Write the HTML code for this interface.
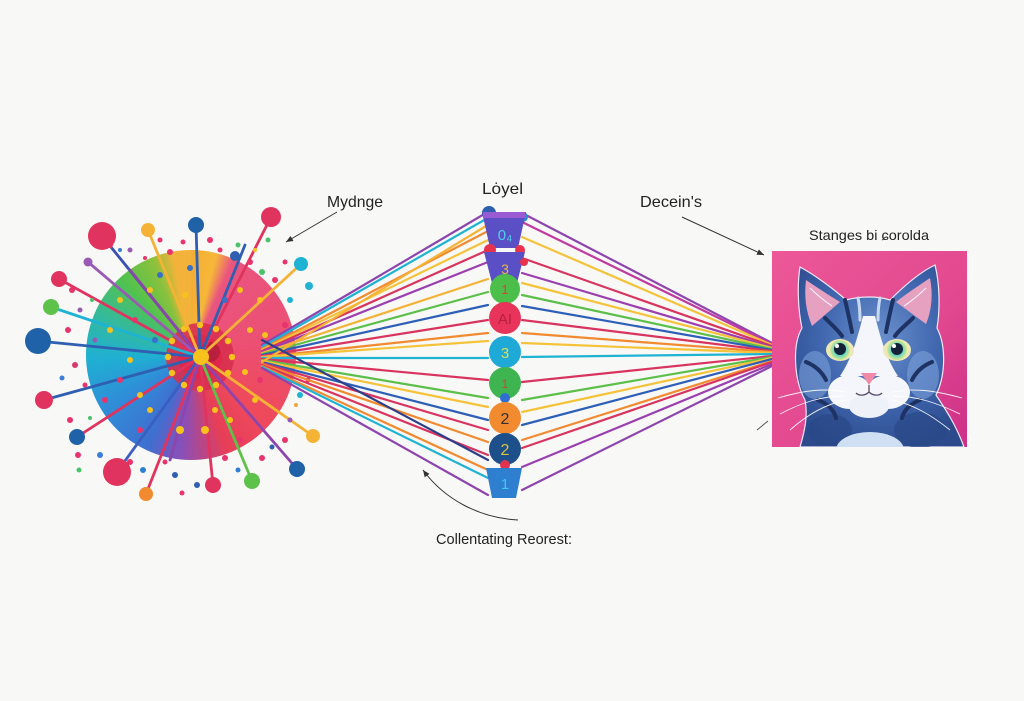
<!DOCTYPE html>
<html>
<head>
<meta charset="utf-8">
<style>
  html,body{margin:0;padding:0;background:#f8f8f6;}
  #wrap{position:relative;width:1024px;height:701px;overflow:hidden;background:#f8f8f6;}
  #disc{position:absolute;left:86px;top:250px;width:210px;height:210px;border-radius:50%;
    background:conic-gradient(from 0deg,#f4ad36 0deg,#f6b838 14deg,#e9557f 24deg,#ec4f72 80deg,#ee4a5c 130deg,#e63e58 160deg,#8b4fb6 185deg,#3f6fd0 205deg,#2f8fd8 240deg,#1fb0d2 268deg,#33b9a0 292deg,#52c24e 318deg,#8bc13c 338deg,#f3b33a 350deg);}
  svg{position:absolute;left:0;top:0;}
  text{font-family:"Liberation Sans",sans-serif;}
</style>
</head>
<body>
<div id="wrap">
<div id="disc"></div>
<svg width="1024" height="701" viewBox="0 0 1024 701" xmlns="http://www.w3.org/2000/svg">
  <defs>
    <linearGradient id="pinkbg" x1="0" y1="0" x2="1" y2="1">
      <stop offset="0" stop-color="#ec5898"/>
      <stop offset="0.6" stop-color="#e2488f"/>
      <stop offset="1" stop-color="#cc3088"/>
    </linearGradient>
    <radialGradient id="fur" cx="0.5" cy="0.4" r="0.65">
      <stop offset="0" stop-color="#6a90cc"/>
      <stop offset="0.55" stop-color="#3f66ae"/>
      <stop offset="1" stop-color="#2c4a8c"/>
    </radialGradient>
    <radialGradient id="iris" cx="0.5" cy="0.5" r="0.5">
      <stop offset="0" stop-color="#2a8f8c"/>
      <stop offset="0.6" stop-color="#6ad6c4"/>
      <stop offset="1" stop-color="#d9e88a"/>
    </radialGradient>
    <clipPath id="catclip"><rect x="772" y="251" width="195" height="196"/></clipPath>
    <marker id="ah" markerWidth="8" markerHeight="8" refX="7" refY="4" orient="auto" markerUnits="userSpaceOnUse">
      <path d="M0,1 L7,4 L0,7 Z" fill="#333"/>
    </marker>
  </defs>

  <!-- inner circle details -->
  <circle cx="200" cy="357" r="34" fill="#d8304f" opacity="0.9"/>
  <circle cx="200" cy="357" r="22" fill="#e0284a"/>
  <circle cx="210" cy="352" r="10" fill="#b8203e"/>

  <!-- spokes -->
  <g stroke-width="2.8" stroke-linecap="round" fill="none">
    <line x1="200" y1="357" x2="102" y2="236" stroke="#3a4fb0"/>
    <line x1="200" y1="357" x2="148" y2="230" stroke="#f5b336"/>
    <line x1="200" y1="357" x2="196" y2="225" stroke="#2f5fb0"/>
    <line x1="200" y1="357" x2="271" y2="217" stroke="#e0335e"/>
    <line x1="200" y1="357" x2="88" y2="262" stroke="#9b59b6"/>
    <line x1="200" y1="357" x2="59" y2="279" stroke="#e0335e"/>
    <line x1="200" y1="357" x2="51" y2="307" stroke="#1fb3d3"/>
    <line x1="200" y1="357" x2="38" y2="341" stroke="#2f5fb0"/>
    <line x1="200" y1="357" x2="44" y2="400" stroke="#2f5fb0"/>
    <line x1="200" y1="357" x2="77" y2="437" stroke="#e0335e"/>
    <line x1="200" y1="357" x2="117" y2="472" stroke="#3a5fc0"/>
    <line x1="200" y1="357" x2="146" y2="494" stroke="#e0335e"/>
    <line x1="200" y1="357" x2="213" y2="485" stroke="#e0335e"/>
    <line x1="200" y1="357" x2="252" y2="481" stroke="#5cc24a"/>
    <line x1="200" y1="357" x2="297" y2="469" stroke="#8e44ad"/>
    <line x1="200" y1="357" x2="313" y2="436" stroke="#f5b336"/>
    <line x1="200" y1="357" x2="301" y2="264" stroke="#f5b336"/>
    <line x1="200" y1="357" x2="130" y2="270" stroke="#8e44ad"/>
    <line x1="200" y1="357" x2="170" y2="460" stroke="#8e44ad"/>
    <line x1="200" y1="357" x2="245" y2="245" stroke="#2f5fb0"/>
  </g>

  <!-- inner dots -->
  <g fill="#f7c21c">
    <circle cx="232" cy="357" r="3.2"/><circle cx="228" cy="373" r="3.2"/><circle cx="216" cy="385" r="3.2"/>
    <circle cx="200" cy="389" r="3.2"/><circle cx="184" cy="385" r="3.2"/><circle cx="172" cy="373" r="3.2"/>
    <circle cx="168" cy="357" r="3.2"/><circle cx="172" cy="341" r="3.2"/><circle cx="184" cy="329" r="3.2"/>
    <circle cx="200" cy="325" r="3.2"/><circle cx="216" cy="329" r="3.2"/><circle cx="228" cy="341" r="3.2"/>
    <circle cx="120" cy="300" r="3"/><circle cx="110" cy="330" r="3"/><circle cx="150" cy="290" r="3"/>
    <circle cx="185" cy="295" r="3"/><circle cx="240" cy="290" r="3"/><circle cx="260" cy="300" r="3"/>
    <circle cx="250" cy="330" r="3"/><circle cx="265" cy="335" r="3"/><circle cx="150" cy="410" r="3"/>
    <circle cx="180" cy="430" r="4"/><circle cx="205" cy="430" r="4"/><circle cx="230" cy="420" r="3"/>
    <circle cx="255" cy="400" r="3"/><circle cx="130" cy="360" r="3"/><circle cx="215" cy="410" r="3"/>
    <circle cx="140" cy="395" r="3"/><circle cx="245" cy="372" r="3"/>
  </g>
  <g fill="#e8336b">
    <circle cx="135" cy="320" r="3"/><circle cx="140" cy="430" r="3"/><circle cx="260" cy="380" r="3"/>
    <circle cx="120" cy="380" r="3"/><circle cx="105" cy="400" r="3"/><circle cx="240" cy="440" r="3"/>
  </g>
  <g fill="#3b6fc8">
    <circle cx="160" cy="275" r="3"/><circle cx="190" cy="268" r="3"/><circle cx="155" cy="340" r="3"/>
    <circle cx="225" cy="300" r="3"/>
  </g>
  <circle cx="201" cy="357" r="8" fill="#f7c21c"/>

  <!-- outer dots -->
  <g>
    <circle cx="72" cy="290" r="3" fill="#e8336b"/><circle cx="80" cy="310" r="2.5" fill="#9b59b6"/>
    <circle cx="68" cy="330" r="3" fill="#e8336b"/><circle cx="75" cy="365" r="3" fill="#d63a6a"/>
    <circle cx="62" cy="378" r="2.5" fill="#3b7dd8"/><circle cx="85" cy="385" r="2.5" fill="#e8336b"/>
    <circle cx="70" cy="420" r="3" fill="#e8336b"/><circle cx="90" cy="418" r="2" fill="#4cc26a"/>
    <circle cx="78" cy="455" r="3" fill="#e8336b"/><circle cx="100" cy="455" r="3" fill="#3b7dd8"/>
    <circle cx="130" cy="462" r="3" fill="#e8336b"/><circle cx="143" cy="470" r="3" fill="#2f7fd0"/>
    <circle cx="165" cy="462" r="2.5" fill="#e8336b"/><circle cx="175" cy="475" r="3" fill="#2f5fb0"/>
    <circle cx="182" cy="493" r="2.5" fill="#e8336b"/><circle cx="197" cy="485" r="3" fill="#2f5fb0"/>
    <circle cx="225" cy="458" r="3" fill="#e8336b"/><circle cx="238" cy="470" r="2.5" fill="#2f7fd0"/>
    <circle cx="262" cy="458" r="3" fill="#e8336b"/><circle cx="272" cy="447" r="2.5" fill="#2f5fb0"/>
    <circle cx="285" cy="440" r="3" fill="#e8336b"/><circle cx="290" cy="420" r="2.5" fill="#9b59b6"/>
    <circle cx="300" cy="395" r="3" fill="#1fb3d3"/><circle cx="308" cy="380" r="2.5" fill="#e8336b"/>
    <circle cx="296" cy="405" r="2" fill="#f2a33a"/><circle cx="110" cy="245" r="3" fill="#e8336b"/>
    <circle cx="130" cy="250" r="2.5" fill="#9b59b6"/><circle cx="160" cy="240" r="2.5" fill="#e8336b"/>
    <circle cx="170" cy="252" r="3" fill="#e8336b"/><circle cx="183" cy="242" r="2.5" fill="#e8336b"/>
    <circle cx="210" cy="240" r="3" fill="#e8336b"/><circle cx="220" cy="250" r="2.5" fill="#e8336b"/>
    <circle cx="238" cy="245" r="2.5" fill="#4cc26a"/><circle cx="250" cy="262" r="3" fill="#e8336b"/>
    <circle cx="262" cy="272" r="3" fill="#4cc26a"/><circle cx="275" cy="280" r="3" fill="#e8336b"/>
    <circle cx="285" cy="262" r="2.5" fill="#e8336b"/><circle cx="290" cy="300" r="3" fill="#1fb3d3"/>
    <circle cx="285" cy="325" r="3" fill="#e8336b"/><circle cx="255" cy="250" r="2" fill="#f7c21c"/>
    <circle cx="92" cy="300" r="2" fill="#4cc26a"/><circle cx="95" cy="340" r="2.5" fill="#9b59b6"/>
    <circle cx="120" cy="250" r="2" fill="#3b7dd8"/><circle cx="145" cy="258" r="2" fill="#e8336b"/>
    <circle cx="309" cy="286" r="4" fill="#1fb3d3"/><circle cx="235" cy="256" r="5" fill="#2f5fb0"/>
    <circle cx="268" cy="240" r="2.5" fill="#4cc26a"/><circle cx="79" cy="470" r="2.5" fill="#4cc26a"/>
  </g>

  <!-- spoke balls -->
  <g>
    <circle cx="102" cy="236" r="14" fill="#e0335e"/>
    <circle cx="148" cy="230" r="7" fill="#f5b336"/>
    <circle cx="196" cy="225" r="8" fill="#1f62a8"/>
    <circle cx="271" cy="217" r="10" fill="#e0335e"/>
    <circle cx="88" cy="262" r="4.5" fill="#9b59b6"/>
    <circle cx="59" cy="279" r="8" fill="#e0335e"/>
    <circle cx="51" cy="307" r="8" fill="#5cc24a"/>
    <circle cx="38" cy="341" r="13" fill="#1f62a8"/>
    <circle cx="44" cy="400" r="9" fill="#e0335e"/>
    <circle cx="77" cy="437" r="8" fill="#1f62a8"/>
    <circle cx="117" cy="472" r="14" fill="#e0335e"/>
    <circle cx="146" cy="494" r="7" fill="#f28a30"/>
    <circle cx="213" cy="485" r="8" fill="#e0335e"/>
    <circle cx="252" cy="481" r="8" fill="#5cc24a"/>
    <circle cx="297" cy="469" r="8" fill="#1f62a8"/>
    <circle cx="313" cy="436" r="7" fill="#f5b336"/>
    <circle cx="301" cy="264" r="7" fill="#1fb3d3"/>
  </g>

  <!-- left fan -->
  <g stroke-width="2.2" stroke-linecap="round" fill="none">
    <line x1="262" y1="345" x2="486" y2="213" stroke="#8e44ad"/>
    <line x1="262" y1="347" x2="486" y2="219" stroke="#1fb3d3"/>
    <line x1="262" y1="349" x2="488" y2="231" stroke="#f28a30"/>
    <line x1="262" y1="350" x2="488" y2="240" stroke="#f5c33a"/>
    <line x1="262" y1="351" x2="488" y2="250" stroke="#d8345f"/>
    <line x1="262" y1="352" x2="488" y2="262" stroke="#9b3fb0"/>
    <line x1="262" y1="353" x2="488" y2="279" stroke="#f5b336"/>
    <line x1="262" y1="354" x2="488" y2="292" stroke="#5cbf4a"/>
    <line x1="262" y1="355" x2="488" y2="305" stroke="#2e5fb8"/>
    <line x1="262" y1="356" x2="488" y2="320" stroke="#d8345f"/>
    <line x1="262" y1="357" x2="488" y2="333" stroke="#f28a30"/>
    <line x1="262" y1="357" x2="488" y2="341" stroke="#f5c33a"/>
    <line x1="262" y1="358" x2="488" y2="358" stroke="#1fb3d3"/>
    <line x1="262" y1="359" x2="488" y2="380" stroke="#d8345f"/>
    <line x1="262" y1="360" x2="488" y2="398" stroke="#5cbf4a"/>
    <line x1="262" y1="361" x2="488" y2="407" stroke="#f5c33a"/>
    <line x1="262" y1="362" x2="488" y2="420" stroke="#2e5fb8"/>
    <line x1="262" y1="363" x2="488" y2="430" stroke="#d8345f"/>
    <line x1="262" y1="364" x2="488" y2="442" stroke="#f28a30"/>
    <line x1="262" y1="365" x2="488" y2="455" stroke="#d8345f"/>
    <line x1="262" y1="366" x2="488" y2="470" stroke="#f28a30"/>
    <line x1="262" y1="367" x2="488" y2="478" stroke="#1fb3d3"/>
    <line x1="262" y1="368" x2="488" y2="495" stroke="#8e44ad"/>
    <line x1="262" y1="362" x2="486" y2="226" stroke="#f5b336"/>
    <line x1="262" y1="340" x2="488" y2="460" stroke="#2e3f8a"/>
  </g>

  <!-- right fan -->
  <g stroke-width="2.2" stroke-linecap="round" fill="none">
    <line x1="522" y1="213" x2="772" y2="343" stroke="#8e44ad"/>
    <line x1="522" y1="222" x2="772" y2="344" stroke="#c03aa0"/>
    <line x1="522" y1="237" x2="772" y2="345" stroke="#f5c33a"/>
    <line x1="522" y1="258" x2="772" y2="346" stroke="#d8345f"/>
    <line x1="522" y1="273" x2="772" y2="347" stroke="#9b3fb0"/>
    <line x1="522" y1="283" x2="772" y2="348" stroke="#f5c33a"/>
    <line x1="522" y1="295" x2="772" y2="349" stroke="#5cbf4a"/>
    <line x1="522" y1="306" x2="772" y2="350" stroke="#2e5fb8"/>
    <line x1="522" y1="320" x2="772" y2="351" stroke="#d8345f"/>
    <line x1="522" y1="333" x2="772" y2="352" stroke="#f28a30"/>
    <line x1="522" y1="343" x2="772" y2="353" stroke="#f5c33a"/>
    <line x1="522" y1="357" x2="772" y2="354" stroke="#1fb3d3"/>
    <line x1="522" y1="382" x2="772" y2="356" stroke="#d8345f"/>
    <line x1="522" y1="400" x2="772" y2="357" stroke="#5cbf4a"/>
    <line x1="522" y1="412" x2="772" y2="358" stroke="#f5c33a"/>
    <line x1="522" y1="425" x2="772" y2="359" stroke="#2e5fb8"/>
    <line x1="522" y1="440" x2="772" y2="361" stroke="#f28a30"/>
    <line x1="522" y1="448" x2="772" y2="362" stroke="#d8345f"/>
    <line x1="522" y1="467" x2="772" y2="364" stroke="#9b3fb0"/>
    <line x1="522" y1="490" x2="772" y2="366" stroke="#8e44ad"/>
  </g>

  <!-- middle column -->
  <circle cx="489" cy="213" r="7" fill="#2f5fb0"/>
  <circle cx="523" cy="217" r="5" fill="#2a8fd0"/>
  <path d="M482,212 L526,212 L518,248 L490,248 Z" fill="#5a4fc4"/>
  <rect x="483" y="212" width="42" height="6" fill="#9a5ad4"/>
  <text x="505" y="240" font-size="15" fill="#4fd0e8" text-anchor="middle">0₄</text>
  <circle cx="490" cy="250" r="6" fill="#e8334f"/>
  <circle cx="520" cy="250" r="5" fill="#e8334f"/>
  <path d="M484,252 L525,252 L517,283 L492,283 Z" fill="#5a4fc4"/>
  <circle cx="524" cy="262" r="4" fill="#e8334f"/>
  <text x="505" y="274" font-size="14" fill="#e6b84a" text-anchor="middle">3</text>
  <circle cx="505" cy="289" r="15" fill="#4cbf4a"/>
  <text x="505" y="294" font-size="13" fill="#d84040" text-anchor="middle">1</text>
  <circle cx="505" cy="318" r="16" fill="#e8345a"/>
  <text x="505" y="324" font-size="15" fill="#b81e3e" text-anchor="middle">AI</text>
  <circle cx="505" cy="352" r="16" fill="#1fa9d6"/>
  <text x="505" y="358" font-size="15" fill="#d6e05a" text-anchor="middle">3</text>
  <circle cx="505" cy="383" r="16" fill="#3fb552"/>
  <text x="505" y="388" font-size="12" fill="#d84040" text-anchor="middle">1</text>
  <circle cx="505" cy="398" r="5" fill="#2f6fd0"/>
  <circle cx="505" cy="418" r="16" fill="#f28a30"/>
  <text x="505" y="424" font-size="16" fill="#333" text-anchor="middle">2</text>
  <circle cx="505" cy="449" r="16" fill="#1d4f8a"/>
  <text x="505" y="455" font-size="16" fill="#e0c040" text-anchor="middle">2</text>
  <circle cx="505" cy="465" r="5" fill="#e0334f"/>
  <path d="M486,468 L522,468 L516,498 L492,498 Z" fill="#2f7fd0"/>
  <text x="505" y="489" font-size="15" fill="#40c8f0" text-anchor="middle">1</text>

  <!-- cat picture -->
  <rect x="772" y="251" width="195" height="196" fill="url(#pinkbg)"/>
  <g clip-path="url(#catclip)">
    <!-- head + body silhouette -->
    <path d="M800,267 C815,275 835,290 846,300 C860,296 878,296 890,300 C902,288 920,272 935,265 C940,285 940,310 937,328 C946,345 946,375 936,395 C946,410 956,425 964,447 L800,447 C805,430 808,415 805,400 C794,380 792,345 802,328 C798,310 797,285 800,267 Z" fill="url(#fur)" stroke="#f0e8f4" stroke-width="1.2"/>
    <!-- inner ears -->
    <path d="M806,280 C818,288 830,296 840,302 L812,326 C806,312 804,296 806,280 Z" fill="#e6a0c0"/>
    <path d="M930,278 C918,286 906,294 896,302 L926,324 C932,310 933,294 930,278 Z" fill="#e6a0c0"/>
    <path d="M810,288 C818,296 826,302 832,306" stroke="#f4f0f8" stroke-width="1.2" fill="none"/>
    <path d="M926,288 C918,296 910,302 904,306" stroke="#f4f0f8" stroke-width="1.2" fill="none"/>
    <!-- cheek highlights -->
    <ellipse cx="815" cy="375" rx="16" ry="24" fill="#7ca0d8" opacity="0.6"/>
    <ellipse cx="923" cy="375" rx="16" ry="24" fill="#7ca0d8" opacity="0.6"/>
    <ellipse cx="830" cy="430" rx="22" ry="16" fill="#2a4888" opacity="0.7"/>
    <ellipse cx="920" cy="430" rx="26" ry="18" fill="#2a4888" opacity="0.7"/>
    <!-- stripes -->
    <g stroke="#1e3264" stroke-width="4" fill="none" stroke-linecap="round">
      <path d="M845,300 C848,312 850,322 852,332"/>
      <path d="M893,300 C890,312 888,322 886,332"/>
      <path d="M825,318 C832,325 838,330 842,336"/>
      <path d="M913,318 C906,325 899,330 895,336"/>
      <path d="M806,362 C816,366 822,372 826,380"/>
      <path d="M932,362 C922,366 916,372 912,380"/>
      <path d="M818,400 C828,404 834,410 836,418"/>
      <path d="M920,400 C910,404 904,410 902,418"/>
    </g>
    <g stroke="#c8d8f0" stroke-width="3" fill="none" stroke-linecap="round">
      <path d="M858,298 C860,307 860,314 860,320"/>
      <path d="M880,298 C878,307 878,314 878,320"/>
    </g>
    <!-- white blaze & muzzle -->
    <path d="M863,316 L875,316 C881,340 887,360 898,376 L840,376 C851,360 857,340 863,316 Z" fill="#f4f6fb"/>
    <ellipse cx="850" cy="392" rx="22" ry="17" fill="#f4f6fb"/>
    <ellipse cx="888" cy="392" rx="22" ry="17" fill="#f4f6fb"/>
    <ellipse cx="869" cy="406" rx="20" ry="12" fill="#eef2f8"/>
    <ellipse cx="870" cy="450" rx="34" ry="18" fill="#cfe0f4"/>
    <!-- eyes -->
    <ellipse cx="840" cy="350" rx="14" ry="11" fill="#ece8b8"/>
    <ellipse cx="897" cy="350" rx="14" ry="11" fill="#ece8b8"/>
    <circle cx="840" cy="350" r="10" fill="url(#iris)"/>
    <circle cx="897" cy="350" r="10" fill="url(#iris)"/>
    <circle cx="840" cy="349" r="6" fill="#142238"/>
    <circle cx="897" cy="349" r="6" fill="#142238"/>
    <circle cx="837" cy="346" r="2" fill="#fff"/>
    <circle cx="894" cy="346" r="2" fill="#fff"/>
    <!-- nose & mouth -->
    <path d="M861,373 L877,373 L869,385 Z" fill="#f08aa8"/>
    <path d="M869,385 L869,392 M869,392 C865,396 859,396 856,393 M869,392 C873,396 879,396 882,393" stroke="#5a4a6a" stroke-width="1.3" fill="none"/>
    <!-- whiskers -->
    <g stroke="#ffffff" stroke-width="0.9" fill="none" opacity="0.9">
      <path d="M845,392 C825,388 805,390 778,398"/>
      <path d="M845,396 C822,396 803,402 780,414"/>
      <path d="M846,400 C826,404 808,414 790,430"/>
      <path d="M893,392 C913,388 933,390 962,398"/>
      <path d="M893,396 C916,396 935,402 960,414"/>
      <path d="M892,400 C912,404 930,414 950,430"/>
    </g>
  </g>

  <!-- labels -->
  <text x="327" y="207" font-size="16" fill="#222" textLength="56" lengthAdjust="spacingAndGlyphs">Mydnge</text>
  <text x="482" y="194" font-size="16" fill="#222" textLength="41" lengthAdjust="spacingAndGlyphs">Lȯyel</text>
  <text x="640" y="207" font-size="16" fill="#222" textLength="62" lengthAdjust="spacingAndGlyphs">Decein's</text>
  <text x="809" y="240" font-size="14" fill="#222" textLength="120" lengthAdjust="spacingAndGlyphs">Stanges bi ɕorolda</text>
  <text x="436" y="544" font-size="15" fill="#222" textLength="136" lengthAdjust="spacingAndGlyphs">Collentating Reorest:</text>

  <!-- arrows -->
  <line x1="337" y1="212" x2="286" y2="242" stroke="#333" stroke-width="1" marker-end="url(#ah)"/>
  <line x1="682" y1="217" x2="764" y2="255" stroke="#333" stroke-width="1" marker-end="url(#ah)"/>
  <path d="M518,520 C480,518 445,500 423,470" stroke="#333" stroke-width="1" fill="none" marker-end="url(#ah)"/>
  <line x1="757" y1="430" x2="768" y2="421" stroke="#555" stroke-width="1"/>
</svg>
</div>
</body>
</html>
